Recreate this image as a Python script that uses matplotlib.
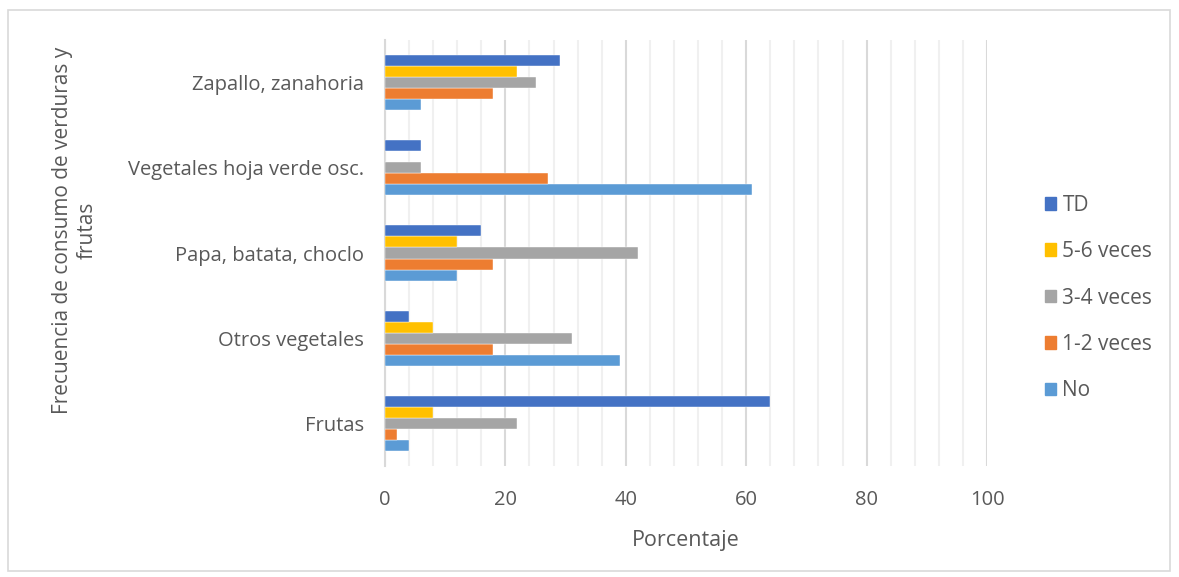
import numpy as np
import matplotlib
matplotlib.use('Agg')
import matplotlib.pyplot as plt
from matplotlib.patches import Rectangle, Patch

plt.rcParams['font.family'] = ['Open Sans', 'DejaVu Sans']

categorias = ["Frutas", "Otros vegetales", "Papa, batata, choclo",
              "Vegetales hoja verde osc.", "Zapallo, zanahoria"]
series = ["No", "1-2 veces", "3-4 veces", "5-6 veces", "TD"]
colores = ["#5B9BD5", "#ED7D31", "#A5A5A5", "#FFC000", "#4472C4"]

no_ = [4, 39, 12, 61, 6]
v12 = [2, 18, 18, 27, 18]
v34 = [22, 31, 42, 6, 25]
v56 = [8, 8, 12, 0, 22]
td = [64, 4, 16, 6, 29]
valores = [no_, v12, v34, v56, td]

gris = '#595959'

fig = plt.figure(figsize=(11.79, 5.77), dpi=100)
ax = fig.add_axes([385/1179, 1 - 466/577, (987-385)/1179, (466-40)/577])

y = np.arange(len(categorias))
h = 0.13
for i, (vals, col) in enumerate(zip(valores, colores)):
    ax.barh(y + (i - 2) * h, vals, height=h, color=col, zorder=3,
            edgecolor='white', linewidth=0.3)

ax.set_xlim(0, 100)
ax.set_ylim(-0.5, len(categorias) - 0.5)
ax.set_xticks(np.arange(0, 101, 20))
ax.set_xticks(np.arange(0, 101, 4), minor=True)
ax.grid(axis='x', which='major', color='#d9d9d9', linewidth=1.5, zorder=0)
ax.grid(axis='x', which='minor', color='#f0f0f0', linewidth=1.5, zorder=0)
ax.set_yticks(y)
ax.set_yticklabels(categorias)
for s in ['top', 'right', 'bottom']:
    ax.spines[s].set_visible(False)
ax.spines['left'].set_color('#d9d9d9')
ax.spines['left'].set_linewidth(1.5)
ax.tick_params(axis='both', which='both', length=0, labelsize=14.5, colors=gris)
ax.tick_params(axis='x', pad=17)
ax.tick_params(axis='y', pad=15)

ax.set_xlabel("Porcentaje", fontsize=15.5, color=gris, labelpad=15)
fig.text(75/1179, 1 - 230/577, "Frecuencia de consumo de verduras y\nfrutas",
         rotation=90, ha='center', va='center', fontsize=15, color=gris,
         multialignment='center', linespacing=1.25)

handles = [Patch(color=c, label=s) for s, c in zip(series, colores)][::-1]
leg = fig.legend(handles=handles, loc='center left',
                 bbox_to_anchor=(1026/1179, 1 - 298/577), frameon=False,
                 fontsize=15, labelspacing=1.22, handlelength=0.55,
                 handleheight=0.55, handletextpad=0.3)
for t in leg.get_texts():
    t.set_color(gris)

fig.patches.append(Rectangle((8/1179, 1 - 571/577), (1170-8)/1179, (571-10)/577,
                             transform=fig.transFigure, fill=False,
                             edgecolor='#d9d9d9', linewidth=1.2))

fig.savefig('out.png', dpi=100)
